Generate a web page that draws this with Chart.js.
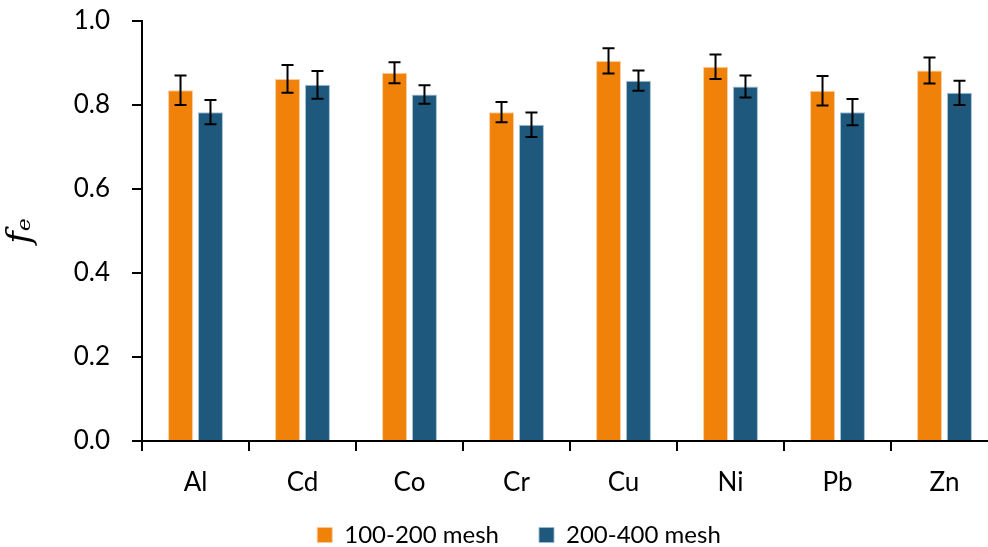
<!DOCTYPE html>
<html lang="en">
<head>
  <meta charset="UTF-8">
  <title>fe by element and mesh size</title>
  <style>
    html, body { margin: 0; padding: 0; overflow: hidden; background: #fff; }
    canvas { display: block; }
  </style>
</head>
<body>
  <canvas id="myChart" width="1000" height="572"></canvas>

  <script src="https://cdn.jsdelivr.net/npm/chart.js"></script>
  <script>
    // data
    const categories = ['Al', 'Cd', 'Co', 'Cr', 'Cu', 'Ni', 'Pb', 'Zn'];
    const mesh100 = [0.835, 0.862, 0.877, 0.783, 0.905, 0.891, 0.834, 0.882];
    const mesh200 = [0.783, 0.848, 0.825, 0.753, 0.858, 0.844, 0.783, 0.829];
    const err100 = [0.035, 0.033, 0.025, 0.024, 0.030, 0.029, 0.035, 0.031];
    const err200 = [0.029, 0.033, 0.022, 0.029, 0.024, 0.026, 0.031, 0.029];
    const yTicks = [0, 0.2, 0.4, 0.6, 0.8, 1.0];

    const tickFont = { family: 'Lato', size: 26 };

    // error bars drawn from each bar's position and the y scale
    const errorBars = {
      id: 'errorBars',
      afterDatasetsDraw(chart) {
        const ctx = chart.ctx;
        const y = chart.scales.y;
        ctx.save();
        ctx.strokeStyle = '#000';
        ctx.lineWidth = 2;
        chart.data.datasets.forEach((ds, i) => {
          const meta = chart.getDatasetMeta(i);
          meta.data.forEach((bar, j) => {
            const v = ds.data[j], e = ds.errors[j];
            const top = y.getPixelForValue(v + e);
            const bot = y.getPixelForValue(v - e);
            const half = 6;
            ctx.beginPath();
            ctx.moveTo(bar.x, top); ctx.lineTo(bar.x, bot);
            ctx.moveTo(bar.x - half, top); ctx.lineTo(bar.x + half, top);
            ctx.moveTo(bar.x - half, bot); ctx.lineTo(bar.x + half, bot);
            ctx.stroke();
          });
        });
        ctx.restore();
      }
    };

    // pull the legend row up a bit, closer to the axis labels
    const legendNudge = {
      id: 'legendNudge',
      afterLayout(chart) {
        const lg = chart.legend;
        lg.top -= 15;
        lg.bottom -= 15;
      }
    };

    const ctx = document.getElementById('myChart');

    const grafica = new Chart(ctx, {
      type: 'bar',
      data: {
        labels: categories,
        datasets: [{
          label: '100-200 mesh',
          data: mesh100,
          errors: err100,
          backgroundColor: 'rgb(240, 130, 10)',
          borderColor: 'rgba(250, 200, 150, 0.9)',
          borderWidth: 1
        }, {
          label: '200-400 mesh',
          data: mesh200,
          errors: err200,
          backgroundColor: 'rgb(30, 89, 125)',
          borderColor: 'rgba(150, 185, 210, 0.9)',
          borderWidth: 1
        }]
      },
      options: {
        responsive: false,
        animation: false,
        devicePixelRatio: 1,
        categoryPercentage: 0.56,
        barPercentage: 0.833,
        layout: { padding: { top: 21, right: 2, left: 40, bottom: 0 } },
        plugins: {
          tooltip: { enabled: false },
          legend: {
            position: 'bottom',
            labels: {
              boxWidth: 15,
              boxHeight: 15,
              padding: 40,
              color: '#000',
              font: { family: 'Lato', size: 24 }
            }
          }
        },
        scales: {
          x: {
            grid: {
              offset: true,
              drawOnChartArea: false,
              drawTicks: true,
              tickLength: 10,
              color: '#000',
              lineWidth: 2
            },
            border: { display: true, color: '#000', width: 2 },
            ticks: { color: '#000', font: tickFont, padding: 16, maxRotation: 0 },
            afterFit(scale) { scale.height = 57; }
          },
          y: {
            min: 0,
            max: 1,
            grid: {
              drawOnChartArea: false,
              drawTicks: true,
              tickLength: 10,
              color: '#000',
              lineWidth: 2
            },
            border: { display: true, color: '#000', width: 2 },
            afterBuildTicks(scale) {
              scale.ticks = yTicks.map(v => ({ value: v }));
            },
            ticks: {
              color: '#000',
              font: tickFont,
              padding: 22,
              callback: v => Number(v).toFixed(1)
            },
            title: {
              display: true,
              text: 'fₑ',
              color: '#000',
              font: { family: 'DejaVu Serif', size: 34, style: 'italic' },
              padding: { top: -39, bottom: 0 }
            },
            afterFit(scale) {
              scale.width = 102;
              scale.paddingTop = 0;
              scale.paddingBottom = 0;
            }
          }
        }
      },
      plugins: [errorBars, legendNudge]
    });
  </script>
</body>
</html>
